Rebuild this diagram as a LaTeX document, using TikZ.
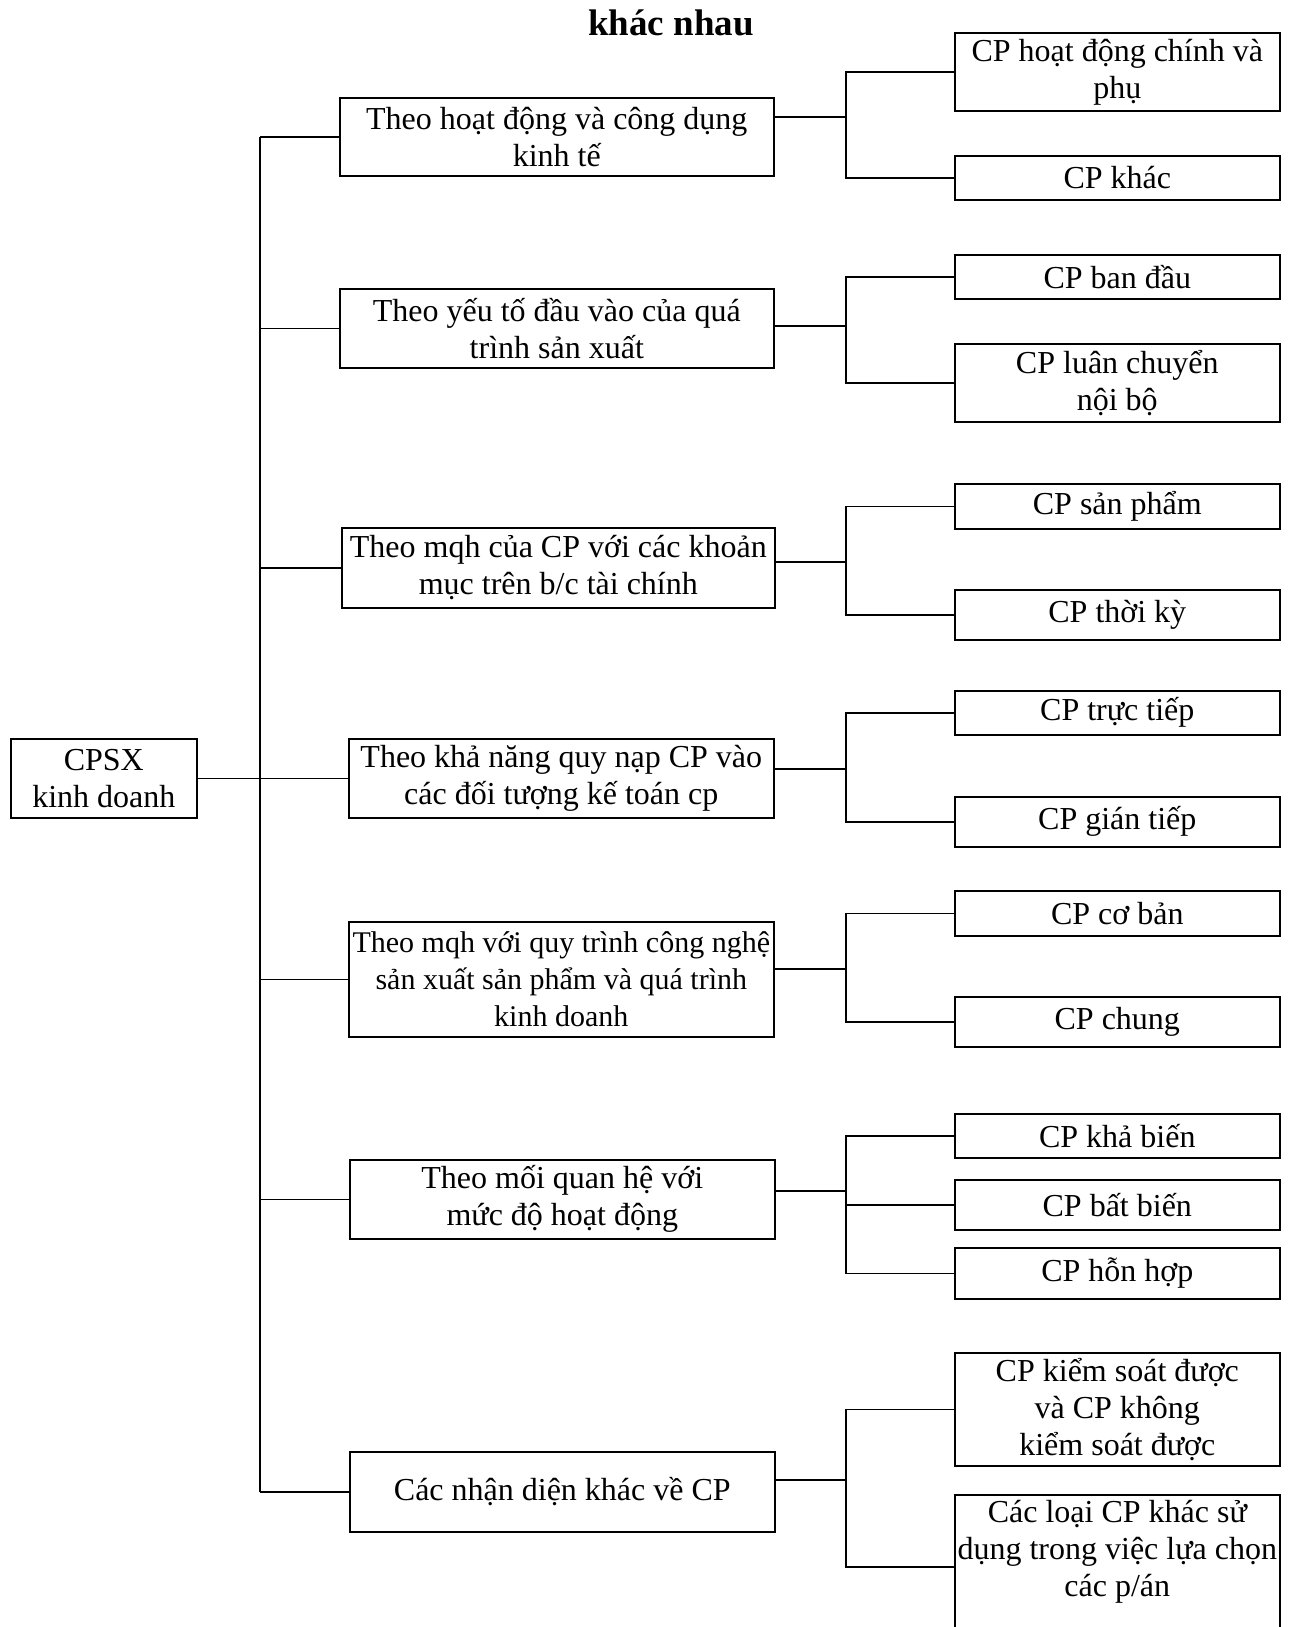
\documentclass[tikz,border=0pt]{standalone}
\usepackage{fontspec}
\setmainfont{Liberation Serif}
\usepackage{tikz}

\begin{document}
\begin{tikzpicture}[x=1pt,y=-1pt,line width=1.6pt,
    box/.style={draw,line width=1.6pt,inner sep=0pt,align=center,anchor=north west,font=\fontsize{32}{37}\selectfont},
    rootbox/.style={box,minimum width=186pt,minimum height=79pt},
    groupbox/.style={box,minimum width=425pt},
    leafbox/.style={box,minimum width=325pt}]
    \useasboundingbox (0,0) rectangle (1293,1627);
    \clip (0,0) rectangle (1293,1627);
    % title line (only its last words are on the page)
    \node[font=\fontsize{37}{42}\selectfont\bfseries,anchor=base] (title) at (671,36) {khác nhau};
    % root and the seven ways of classifying
    \node[rootbox] (root) at (10,738) {CPSX\\kinh doanh};
    \node[groupbox,minimum width=434pt,minimum height=78pt] (a1) at (339,97) {Theo hoạt động và công dụng\\kinh tế};
    \node[groupbox,minimum width=434pt,minimum height=79pt] (a2) at (339,288) {Theo yếu tố đầu vào của quá\\trình sản xuất};
    \node[groupbox,minimum width=433pt,minimum height=80pt] (a3) at (341,527) {Theo mqh của CP với các khoản\\mục trên b/c tài chính};
    \node[groupbox,minimum height=79pt] (a4) at (348,738) {Theo khả năng quy nạp CP vào\\các đối tượng kế toán cp};
    \node[groupbox,minimum height=115pt,font=\fontsize{30}{37}\selectfont] (a5) at (348,921) {Theo mqh với quy trình công nghệ\\sản xuất sản phẩm và quá trình\\kinh doanh};
    \node[groupbox,minimum height=79pt] (a6) at (349,1159) {Theo mối quan hệ với\\mức độ hoạt động};
    \node[groupbox,minimum height=80pt] (a7) at (349,1451) {Các nhận diện khác về CP};
    % kinds of cost
    \node[leafbox,minimum height=78pt] (r1) at (954,32) {CP hoạt động chính và\\phụ};
    \node[leafbox,minimum height=44pt] (r2) at (954,155) {CP khác};
    \node[leafbox,minimum height=44pt] (r3) at (954,254) {CP ban đầu};
    \node[leafbox,minimum height=78pt] (r4) at (954,343) {CP luân chuyển\\nội bộ};
    \node[leafbox,minimum height=45pt] (r5) at (954,483) {CP sản phẩm};
    \node[leafbox,minimum height=50pt] (r6) at (954,589) {CP thời kỳ};
    \node[leafbox,minimum height=44pt] (r7) at (954,690) {CP trực tiếp};
    \node[leafbox,minimum height=50pt] (r8) at (954,796) {CP gián tiếp};
    \node[leafbox,minimum height=45pt] (r9) at (954,890) {CP cơ bản};
    \node[leafbox,minimum height=50pt] (r10) at (954,996) {CP chung};
    \node[leafbox,minimum height=44pt] (r11) at (954,1113) {CP khả biến};
    \node[leafbox,minimum height=50pt] (r12) at (954,1179) {CP bất biến};
    \node[leafbox,minimum height=51pt] (r13) at (954,1247) {CP hỗn hợp};
    \node[leafbox,minimum height=113pt] (r14) at (954,1352) {CP kiểm soát được\\và CP không\\kiểm soát được};
    \node[leafbox,minimum height=144pt] (r15) at (954,1494) {Các loại CP khác sử\\dụng trong việc lựa chọn\\các p/án\\\mbox{}};
    % where the lines fork
    \coordinate (trunk) at (260,0);
    \coordinate (j1) at (846,117);
    \coordinate (j2) at (846,326);
    \coordinate (j3) at (846,562);
    \coordinate (j4) at (846,769);
    \coordinate (j5) at (846,969);
    \coordinate (j6) at (846,1191);
    \coordinate (j7) at (846,1480);
    % left side
    \draw (root.east) -- (root.east -| trunk);
    \draw (a1.west -| trunk) -- (a7.west -| trunk);
    \draw (a1.west -| trunk) -- (a1.west);
    \draw (a2.west -| trunk) -- (a2.west);
    \draw (a3.west -| trunk) -- (a3.west);
    \draw (a4.west -| trunk) -- (a4.west);
    \draw (a5.west -| trunk) -- (a5.west);
    \draw (a6.west -| trunk) -- (a6.west);
    \draw (a7.west -| trunk) -- (a7.west);
    % right side
    \draw (a1.east |- j1) -- (j1);
    \draw (r1.west) -| (j1) |- (r2.west);
    \draw (a2.east |- j2) -- (j2);
    \draw (r3.west) -| (j2) |- (r4.west);
    \draw (a3.east |- j3) -- (j3);
    \draw (r5.west) -| (j3) |- (r6.west);
    \draw (a4.east |- j4) -- (j4);
    \draw (r7.west) -| (j4) |- (r8.west);
    \draw (a5.east |- j5) -- (j5);
    \draw (r9.west) -| (j5) |- (r10.west);
    \draw (a6.east |- j6) -- (j6);
    \draw (r11.west) -| (j6) |- (r13.west);
    \draw (r12.west -| j6) -- (r12.west);
    \draw (a7.east |- j7) -- (j7);
    \draw (r14.west) -| (j7) |- (r15.west);
\end{tikzpicture}
\end{document}
